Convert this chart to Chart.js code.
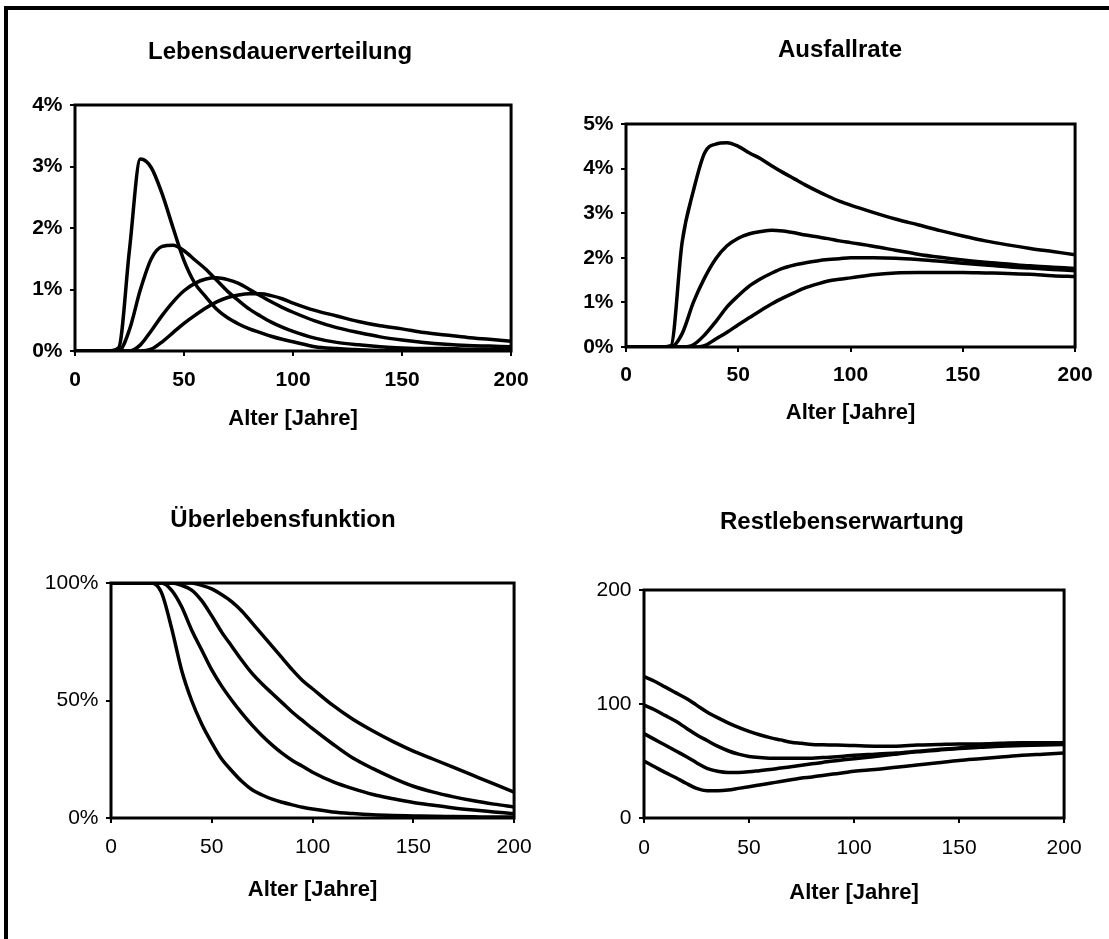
<!DOCTYPE html>
<html>
<head>
<meta charset="utf-8">
<script src="https://cdn.jsdelivr.net/npm/chart.js@4/dist/chart.umd.min.js"></script>
<style>
body{margin:0;background:#fff;width:1109px;height:939px;overflow:hidden;position:relative;}
.frame{position:absolute;left:4px;top:6px;right:-10px;bottom:-10px;border-top:4px solid #000;border-left:4px solid #000;}
.wrap{position:absolute;}
</style>
</head>
<body>
<div class="frame"></div>
<div class="wrap" id="w1"><canvas id="c1"></canvas></div>
<div class="wrap" id="w2"><canvas id="c2"></canvas></div>
<div class="wrap" id="w3"><canvas id="c3"></canvas></div>
<div class="wrap" id="w4"><canvas id="c4"></canvas></div>
<script>
// Alter in Jahren (x-Werte fuer alle Kurven)
var ages=[0,5,10,15,20,25,30,35,40,45,50,55,60,65,70,75,80,85,90,95,100,110,120,130,140,150,160,170,180,190,200];

// Lebensdauerverteilung [%]
var dist1=[0,0,0,0,0.05,1.65,3.12,2.98,2.55,2.0,1.47,1.1,0.88,0.68,0.54,0.44,0.36,0.3,0.24,0.19,0.15,0.07,0.04,0.02,0.01,0.01,0.01,0,0,0,0];
var dist2=[0,0,0,0,0,0.35,1.0,1.5,1.7,1.72,1.63,1.48,1.33,1.15,0.97,0.82,0.68,0.57,0.47,0.39,0.32,0.21,0.14,0.1,0.07,0.05,0.04,0.04,0.03,0.03,0.03];
var dist3=[0,0,0,0,0,0,0.1,0.33,0.58,0.8,0.98,1.1,1.17,1.19,1.16,1.1,1.0,0.9,0.8,0.71,0.63,0.49,0.38,0.3,0.23,0.18,0.14,0.11,0.09,0.08,0.07];
var dist4=[0,0,0,0,0,0,0,0.03,0.15,0.3,0.45,0.58,0.7,0.8,0.87,0.91,0.93,0.93,0.9,0.85,0.78,0.66,0.57,0.48,0.41,0.36,0.3,0.26,0.22,0.19,0.16];

// Ausfallrate [%]
var rate1=[0,0,0,0,0.03,2.35,3.5,4.35,4.55,4.58,4.5,4.35,4.22,4.06,3.91,3.77,3.63,3.5,3.38,3.27,3.18,3.02,2.87,2.74,2.61,2.49,2.38,2.29,2.21,2.14,2.07];
var rate2=[0,0,0,0,0,0.3,1.0,1.55,1.98,2.27,2.44,2.54,2.59,2.62,2.6,2.56,2.51,2.47,2.43,2.38,2.34,2.26,2.17,2.08,2.01,1.95,1.9,1.86,1.82,1.79,1.76];
var rate3=[0,0,0,0,0,0,0.05,0.27,0.57,0.9,1.15,1.37,1.53,1.66,1.77,1.84,1.89,1.93,1.96,1.98,2.0,2.0,1.99,1.96,1.92,1.88,1.84,1.8,1.77,1.74,1.71];
var rate4=[0,0,0,0,0,0,0,0.03,0.18,0.33,0.5,0.66,0.82,0.97,1.1,1.22,1.33,1.41,1.48,1.52,1.55,1.62,1.66,1.67,1.67,1.67,1.66,1.65,1.63,1.6,1.58];

// Ueberlebensfunktion [%]
var surv1=[100,100,100,100,100,96,81,63,50,40,32,25,20,15.5,12,9.8,8,6.7,5.6,4.6,3.8,2.6,1.9,1.4,1.1,0.9,0.7,0.6,0.5,0.4,0.4];
var surv2=[100,100,100,100,100,100,97,90,80,71.5,63,56,50,44.5,39.5,35,31,27.5,24.5,22,19.5,15.5,12.5,10,8.2,6.6,5.4,4.3,3.4,2.6,1.8];
var surv3=[100,100,100,100,100,100,100,99,97,92.5,86,79,73,67,61.5,57,53,49,45,41.5,38,31.5,25.5,21,17,13.5,11,9,7.3,5.9,4.7];
var surv4=[100,100,100,100,100,100,100,100,100,99,97.5,95,92,88,83,78,73,68,63,58.5,55,48,42,37,32.5,28.5,25,21.5,18,14.5,11];

// Restlebenserwartung [Jahre]
var rest1=[50,45,40,35.5,30.5,26,24,24,24.5,26,27.5,29,30.5,32,33.5,35,36,37.3,38.5,39.7,41,42.5,44.5,46.5,48.5,50.5,52,53.5,55,56,57];
var rest2=[74,69,64,59,54,48.5,43.5,41,40,40,40.5,41.5,42.5,43.8,45,46.2,47.5,48.7,50,51,52,54,56,58,59.5,61,62,63,63.5,64,64.5];
var rest3=[99,95,90,85,79,73,68,63,59,56,54,53,52.5,52.5,52.5,52.5,52.5,53,53.5,54.2,55,56,57,58.5,60,61.5,64,65,65.5,65.5,65.5];
var rest4=[124,120,115,110,105,99,93,88,83.5,79.5,76,73,70.5,68.5,66.5,65.5,64.5,64.2,64,63.8,63.5,63,63,64,64.5,65,65,65.5,66,66,66];

var xTicks=[0,50,100,150,200];
var xTitle='Alter [Jahre]';

Chart.defaults.font.family='"Liberation Sans", Arial, sans-serif';
Chart.defaults.color='#000';

// Rahmen um die Zeichenflaeche
var boxPlugin={
    id:'box',
    afterDatasetsDraw:function(chart){
        var a=chart.chartArea;
        var ctx=chart.ctx;
        ctx.save();
        ctx.strokeStyle='#000';
        ctx.lineWidth=3;
        ctx.strokeRect(a.left,a.top,a.right-a.left,a.bottom-a.top);
        ctx.restore();
    }
};

// Diagrammtitel (wie in Excel ueber dem ganzen Diagrammobjekt zentriert)
var headPlugin={
    id:'head',
    afterDraw:function(chart,args,opts){
        var ctx=chart.ctx;
        ctx.save();
        ctx.fillStyle='#000';
        ctx.font='bold 24px "Liberation Sans", Arial, sans-serif';
        ctx.textAlign='center';
        ctx.textBaseline='middle';
        ctx.fillText(opts.text,opts.x,opts.y);
        ctx.restore();
    }
};

function toPoints(vals){
    return vals.map(function(v,i){ return {x:ages[i],y:v}; });
}

function makeChart(p){
    var w=document.getElementById(p.wrap);
    w.style.left=p.left+'px';
    w.style.top=p.top+'px';
    w.style.width=p.w+'px';
    w.style.height=p.h+'px';

    var ds=p.series.map(function(s){
        return {data:toPoints(s),borderColor:'#000',borderWidth:3.5,pointRadius:0,fill:false,cubicInterpolationMode:'monotone'};
    });

    new Chart(document.getElementById(p.id),{
        type:'line',
        data:{datasets:ds},
        options:{
            responsive:true,
            maintainAspectRatio:false,
            animation:false,
            layout:{padding:{left:0,right:p.padR,top:p.padT,bottom:0}},
            plugins:{
                legend:{display:false},
                tooltip:{enabled:false},
                title:{display:false},
                head:{text:p.title,x:p.titleX-p.left,y:p.titleY-p.top}
            },
            scales:{
                x:{
                    type:'linear',min:0,max:200,
                    afterFit:function(s){ s.height=p.xH; },
                    afterBuildTicks:function(s){ s.ticks=xTicks.map(function(v){ return {value:v}; }); },
                    grid:{drawOnChartArea:false,drawTicks:true,tickLength:5,color:'#000',lineWidth:2},
                    border:{display:false},
                    ticks:{padding:p.tickPad,maxRotation:0,font:{size:21,weight:p.bold?'bold':'normal'},color:'#000'},
                    title:{display:true,text:xTitle,color:'#000',font:{size:22,weight:'bold'},padding:{top:0,bottom:p.axPad}}
                },
                y:{
                    min:0,max:p.yMax,
                    afterFit:function(s){ s.width=p.yW; },
                    grid:{drawOnChartArea:false,drawTicks:true,tickLength:5,color:'#000',lineWidth:2},
                    border:{display:false},
                    ticks:{stepSize:p.yStep,padding:7.5,font:{size:21,weight:p.bold?'bold':'normal'},color:'#000',
                        callback:function(v){ return v+p.suffix; }}
                }
            }
        },
        plugins:[boxPlugin,headPlugin]
    });
}

makeChart({wrap:'w1',id:'c1',title:'Lebensdauerverteilung',series:[dist1,dist2,dist3,dist4],yMax:4,yStep:1,suffix:'%',
    left:20,top:15,w:520,h:421,padR:25,padT:90,yW:55,xH:85,titleX:280,titleY:52,tickPad:11.4,axPad:3.8,bold:true});
makeChart({wrap:'w2',id:'c2',title:'Ausfallrate',series:[rate1,rate2,rate3,rate4],yMax:5,yStep:1,suffix:'%',
    left:575,top:15,w:528,h:417,padR:25,padT:109,yW:51,xH:85,titleX:840,titleY:50,tickPad:10.4,axPad:5.8,bold:true});
makeChart({wrap:'w3',id:'c3',title:'Überlebensfunktion',series:[surv1,surv2,surv3,surv4],yMax:100,yStep:50,suffix:'%',
    left:25,top:470,w:518,h:438,padR:25,padT:113,yW:86,xH:90,titleX:283,titleY:520,tickPad:11.4,axPad:4.8,bold:false});
makeChart({wrap:'w4',id:'c4',title:'Restlebenserwartung',series:[rest1,rest2,rest3,rest4],yMax:200,yStep:100,suffix:'',
    left:585,top:470,w:509,h:438,padR:25,padT:120,yW:59,xH:90,titleX:842,titleY:522,tickPad:12.4,axPad:1.8,bold:false});
</script>
</body>
</html>
